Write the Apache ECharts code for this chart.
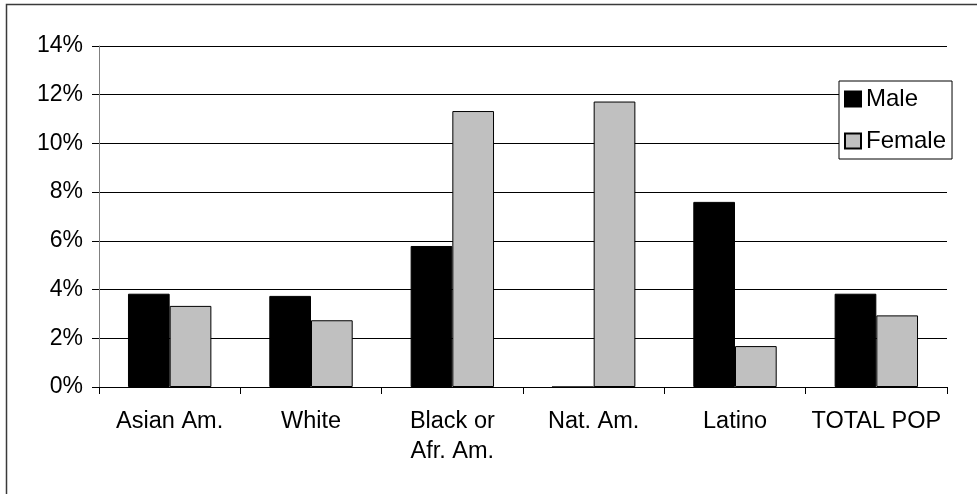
<!DOCTYPE html>
<html>
<head>
<meta charset="utf-8">
<script src="https://cdn.jsdelivr.net/npm/echarts@6/dist/echarts.min.js"></script>
<style>
  html, body { margin: 0; padding: 0; background: #fff; }
  #chart { width: 977px; height: 494px; }
</style>
</head>
<body>
<div id="chart"></div>
<script>
const categories = ['Asian Am.', 'White', 'Black or\nAfr. Am.', 'Nat. Am.', 'Latino', 'TOTAL POP']
const maleValues = [3.83, 3.74, 5.79, 0, 7.60, 3.83]
const femaleValues = [3.33, 2.74, 11.33, 11.72, 1.68, 2.94]
const yTicks = [0, 2, 4, 6, 8, 10, 12, 14]

const font = 'Liberation Sans, Arial, sans-serif'
let chart = echarts.init(document.getElementById('chart'))

let option = {
  animation: false,
  backgroundColor: '#fff',
  textStyle: { fontFamily: font },
  graphic: [
    {
      type: 'rect',
      shape: { x: 6.5, y: 4.5, width: 1000, height: 600 },
      style: { fill: 'none', stroke: '#3a3a3a', lineWidth: 1.5 },
      silent: true
    }
  ],
  legend: {
    orient: 'vertical',
    left: 839,
    top: 81,
    padding: [6, 6, 6, 5],
    itemGap: 18,
    itemWidth: 16,
    itemHeight: 15,
    icon: 'rect',
    borderColor: '#000',
    borderWidth: 1,
    backgroundColor: '#fff',
    textStyle: { fontSize: 24, color: '#000', fontFamily: font },
    data: ['Male', 'Female']
  },
  grid: {
    left: 99,
    right: 30,
    top: 46,
    bottom: 107
  },
  xAxis: {
    type: 'category',
    data: categories,
    axisLine: { lineStyle: { color: '#000', width: 1 } },
    axisTick: { show: true, length: 7, alignWithLabel: false, lineStyle: { color: '#000' } },
    axisLabel: {
      color: '#000',
      fontSize: 23.5,
      lineHeight: 30,
      margin: 20,
      interval: 0,
      fontFamily: font
    }
  },
  yAxis: {
    type: 'value',
    min: yTicks[0],
    max: yTicks[yTicks.length - 1],
    interval: 2,
    axisLine: { show: true, lineStyle: { color: '#808080', width: 1 } },
    axisTick: { show: true, length: 7, lineStyle: { color: '#000' } },
    axisLabel: {
      color: '#000',
      fontSize: 23,
      margin: 16,
      formatter: v => v + '%',
      fontFamily: font
    },
    splitLine: { lineStyle: { color: '#000', width: 1 } }
  },
  series: [
    {
      name: 'Male',
      type: 'bar',
      data: maleValues,
      barGap: '0%',
      barCategoryGap: '41%',
      itemStyle: { color: '#000', borderColor: '#000', borderWidth: 1 }
    },
    {
      name: 'Female',
      type: 'bar',
      data: femaleValues,
      barGap: '0%',
      barCategoryGap: '41%',
      itemStyle: { color: '#c0c0c0', borderColor: '#000', borderWidth: 1 }
    }
  ]
}

chart.setOption(option)
</script>
</body>
</html>
